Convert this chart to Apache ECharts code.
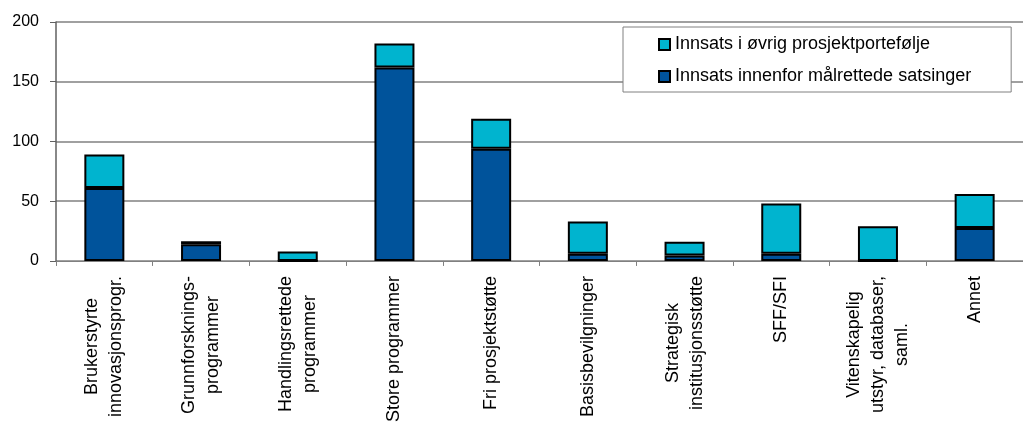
<!DOCTYPE html>
<html>
<head>
<meta charset="utf-8">
<script src="https://cdn.jsdelivr.net/npm/echarts@6/dist/echarts.min.js"></script>
<style>
html,body{margin:0;padding:0;background:#fff;}
#chart{width:1023px;height:425px;}
</style>
</head>
<body>
<div id="chart"></div>
<script>
var categories = [
  "Brukerstyrte\ninnovasjonsprogr.",
  "Grunnforsknings-\nprogrammer",
  "Handlingsrettede\nprogrammer",
  "Store programmer",
  "Fri prosjektstøtte",
  "Basisbevilgninger",
  "Strategisk\ninstitusjonsstøtte",
  "SFF/SFI",
  "Vitenskapelig\nutstyr, databaser,\nsaml.",
  "Annet"
];
var seriesNames = ["Innsats innenfor målrettede satsinger", "Innsats i øvrig prosjektportefølje"];
var targeted = [61, 14, 0, 162, 94, 6, 4.5, 6, 0, 27.5];
var other = [28, 2.5, 8, 20, 25, 27, 11.5, 42, 29, 28.5];
var yTicks = [0, 50, 100, 150, 200];

var FONT = "'Liberation Sans', Arial, sans-serif";
var chart = echarts.init(document.getElementById('chart'), null, {renderer: 'canvas'});
chart.setOption({
  animation: false,
  backgroundColor: '#ffffff',
  textStyle: {fontFamily: FONT},
  grid: {left: 56, top: 22, width: 978, height: 241, containLabel: false},
  legend: {
    data: [seriesNames[1], seriesNames[0]],
    orient: 'vertical',
    left: 623,
    top: 27,
    padding: [8, 40, 6, 35],
    itemGap: 13,
    itemWidth: 11,
    itemHeight: 11,
    icon: 'rect',
    backgroundColor: '#ffffff',
    borderColor: '#808080',
    borderWidth: 1,
    borderRadius: 0,
    textStyle: {fontFamily: FONT, fontSize: 18, color: '#000', lineHeight: 19}
  },
  xAxis: {
    type: 'category',
    data: categories,
    boundaryGap: true,
    axisLine: {lineStyle: {color: '#808080', width: 1}},
    axisTick: {show: true, alignWithLabel: false, length: 5, lineStyle: {color: '#808080'}},
    axisLabel: {
      interval: 0,
      rotate: 90,
      margin: 15,
      fontFamily: FONT,
      fontSize: 18,
      color: '#000',
      lineHeight: 24,
      formatter: function (v) {
        return v.split('\n').map(function (s) { return '{c|' + s + '}'; }).join('\n');
      },
      rich: {c: {align: 'center', fontFamily: FONT, fontSize: 18, lineHeight: 24, color: '#000'}}
    }
  },
  yAxis: {
    type: 'value',
    min: yTicks[0],
    max: yTicks[yTicks.length - 1],
    interval: yTicks[1] - yTicks[0],
    axisLine: {show: true, lineStyle: {color: '#606060', width: 1.5}},
    axisTick: {show: true, length: 6, lineStyle: {color: '#606060'}},
    splitLine: {show: true, lineStyle: {color: '#808080', width: 1.5}},
    axisLabel: {fontFamily: FONT, fontSize: 16, color: '#000', margin: 17}
  },
  series: [
    {
      name: seriesNames[0],
      type: 'bar',
      stack: 'total',
      data: targeted,
      barWidth: 40,
      itemStyle: {color: '#00539B', borderColor: '#000', borderWidth: 2}
    },
    {
      name: seriesNames[1],
      type: 'bar',
      stack: 'total',
      data: other,
      barWidth: 40,
      itemStyle: {color: '#00B4CF', borderColor: '#000', borderWidth: 2}
    }
  ]
});
</script>
</body>
</html>
